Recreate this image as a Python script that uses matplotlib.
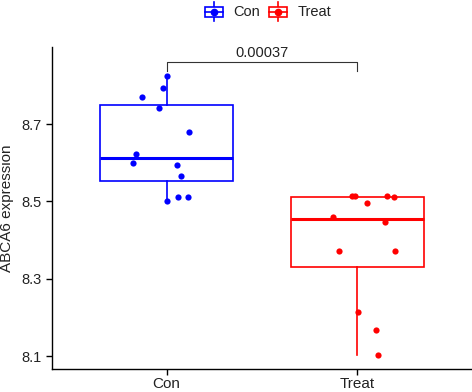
import matplotlib
matplotlib.use("Agg")
import matplotlib.pyplot as plt
from matplotlib.patches import Rectangle
from matplotlib.lines import Line2D
import numpy as np

plt.rcParams['font.family'] = ['Liberation Sans', 'DejaVu Sans']

groups = ["Con", "Treat"]
colors = ["#0000FF", "#FF0000"]
con_vals = [8.823, 8.792, 8.771, 8.742, 8.679, 8.623, 8.600, 8.595, 8.565, 8.502, 8.512, 8.512]
con_jit = [0.004, -0.021, -0.131, -0.042, 0.119, -0.162, -0.178, 0.056, 0.075, 0.004, 0.059, 0.112]
treat_vals = [8.513, 8.513, 8.515, 8.512, 8.497, 8.459, 8.448, 8.371, 8.372, 8.213, 8.167, 8.102]
treat_jit = [-0.026, -0.014, 0.155, 0.194, 0.051, -0.127, 0.145, -0.099, 0.195, 0.004, 0.096, 0.105]
p_label = "0.00037"
ylabel = "ABCA6 expression"
yticks = [8.1, 8.3, 8.5, 8.7]

W, H = 472, 392
fig = plt.figure(figsize=(W / 100, H / 100), dpi=100)
ax = fig.add_axes([52 / W, (H - 369) / H, 420 / W, (369 - 46.6) / H])

data = [con_vals, treat_vals]
jits = [con_jit, treat_jit]
for i, (vals, jit, col) in enumerate(zip(data, jits, colors)):
    pos = i + 1
    ax.boxplot([vals], positions=[pos], widths=0.7, whis=1.5, showcaps=False,
               showfliers=False, patch_artist=True,
               boxprops=dict(facecolor="white", edgecolor=col, linewidth=1.2),
               whiskerprops=dict(color=col, linewidth=1.2),
               medianprops=dict(color=col, linewidth=2.2, solid_capstyle="butt"),
               zorder=2)
    ax.scatter(np.array(jit) + pos, vals, s=20, color=col, zorder=3, linewidths=0)

# significance bracket
ybar, ytick = 8.860, 8.837
ax.plot([1, 1, 2, 2], [ytick, ybar, ybar, ytick], color="#333333", lw=0.8, zorder=4)
ax.text(1.5, ybar + 0.006, p_label, ha="center", va="bottom", fontsize=10.5, color="#222222")

ax.set_xlim(0.4, 2.6)
ax.set_ylim(8.067, 8.9)
ax.set_xticks([1, 2])
ax.set_xticklabels(groups, fontsize=11, color="#222222")
ax.set_yticks(yticks)
ax.set_yticklabels([f"{t:.1f}" for t in yticks], fontsize=10.5, color="#222222")
ax.set_ylabel(ylabel, fontsize=11, color="#222222", labelpad=5)
for s in ["top", "right"]:
    ax.spines[s].set_visible(False)
for s in ["left", "bottom"]:
    ax.spines[s].set_linewidth(1.0)
    ax.spines[s].set_color("black")
ax.tick_params(axis="both", length=4, width=1.0, color="black")
ax.tick_params(axis="x", pad=1.5)

# legend (manual, top center)
def legend_key(cx, cy, col, label):
    tf = lambda x, y: (x / W, (H - y) / H)
    x0, y0 = tf(cx - 9, cy + 5.3)
    fig.add_artist(Line2D([cx / W, cx / W], [(H - 2) / H, (H - 21) / H],
                          transform=fig.transFigure, color=col, lw=1.2, zorder=0))
    rect = Rectangle((x0, y0), 18 / W, 10.6 / H, transform=fig.transFigure,
                     facecolor="white", edgecolor=col, lw=1.2)
    fig.add_artist(rect)
    fig.add_artist(Line2D([(cx - 9) / W, (cx + 9) / W], [(H - cy) / H] * 2,
                          transform=fig.transFigure, color=col, lw=1.2))
    fig.add_artist(Line2D([cx / W], [(H - cy) / H], marker="o", markersize=4.5,
                          color=col, transform=fig.transFigure, lw=0))
    fig.text((cx + 20) / W, (H - cy) / H, label, ha="left", va="center",
             fontsize=10.5, color="#222222")

legend_key(213.5, 12, colors[0], groups[0])
legend_key(278, 12, colors[1], groups[1])

fig.savefig("out.png", dpi=100)
